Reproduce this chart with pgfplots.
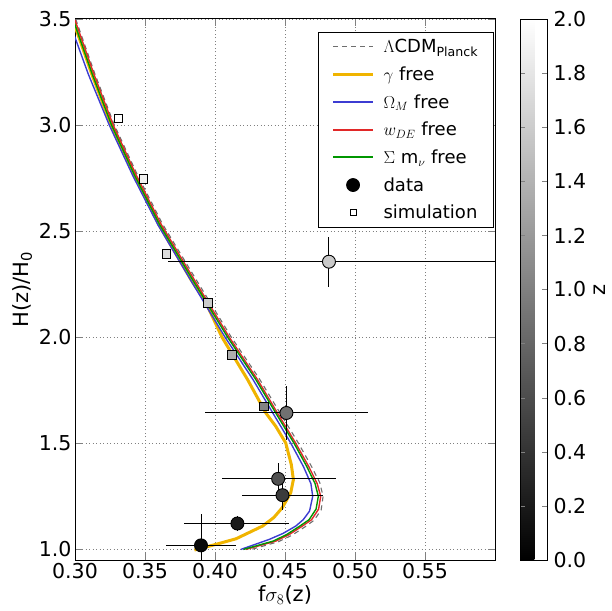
\documentclass[border=0pt]{standalone}
\usepackage{fontspec}
\setmainfont{DejaVu Sans}
\usepackage{pgfplots}
\pgfplotsset{compat=1.18}
\usepackage{pgfplotstable}

\definecolor{gyellow}{RGB}{240,180,0}
\definecolor{oblue}{RGB}{60,60,210}
\definecolor{wred}{RGB}{225,40,40}
\definecolor{mgreen}{RGB}{0,150,0}
\definecolor{lcdm}{RGB}{110,110,110}

% observed growth data: x, y, x error minus/plus, y error, redshift
\pgfplotstableread{
x      y      exm    exp    ey     z
0.390  1.019  0.025  0.025  0.150  0.07
0.416  1.122  0.038  0.037  0.035  0.20
0.4482 1.2555 0.029  0.029  0.070  0.46
0.4451 1.3325 0.040  0.041  0.075  0.63
0.451  1.643  0.058  0.058  0.127  0.88
0.4814 2.356  0.115  0.200  0.117  1.57
}\obsdata

% simulation points
\pgfplotstableread{
x      y      ey    z
0.331  3.032  0.02  2.00
0.349  2.745  0.02  1.88
0.3654 2.392  0.02  1.72
0.395  2.162  0.02  1.58
0.412  1.917  0.02  1.35
0.435  1.673  0.02  1.02
}\simdata

\begin{document}
\begin{tikzpicture}
\begin{axis}[
    name=main,
    width=420pt, height=541pt, scale only axis,
    xmin=0.3, xmax=0.6,
    ymin=0.95, ymax=3.5,
    xtick={0.30,0.35,0.40,0.45,0.50,0.55},
    ytick={1.0,1.5,2.0,2.5,3.0,3.5},
    xticklabel style={/pgf/number format/.cd, fixed, fixed zerofill, precision=2},
    yticklabel style={/pgf/number format/.cd, fixed, fixed zerofill, precision=1},
    /pgf/number format/assume math mode=true,
    tick label style={font=\fontsize{20.5}{24}\selectfont},
    label style={font=\fontsize{21}{25}\selectfont},
    xlabel={f$\sigma_8$(z)},
    ylabel={H(z)/H\textsubscript{0}},
    tick align=inside,
    major tick length=7pt,
    axis line style={line width=1pt},
    grid=major,
    grid style={gray, line width=0.8pt, dash pattern=on 1pt off 2.5pt},
    colormap/blackwhite,
    point meta min=0, point meta max=2,
    colorbar,
    colorbar style={
        width=27pt,
        at={(parent axis.north east)}, anchor=north west, xshift=16.5pt,
        ytick={0,0.2,0.4,0.6,0.8,1.0,1.2,1.4,1.6,1.8,2.0},
        yticklabel style={font=\fontsize{20.5}{24}\selectfont, xshift=3pt,
            /pgf/number format/.cd, fixed, fixed zerofill, precision=1,
            assume math mode=true},
        ylabel={z},
        ylabel style={font=\fontsize{21}{25}\selectfont},
        ylabel shift=1pt,
        major tick length=5pt,
        axis line style={line width=0.8pt},
    },
    legend style={at={(0.9965,0.976)}, anchor=north east,
        font=\fontsize{18}{21}\selectfont, draw=black, line width=0.8pt,
        cells={anchor=west}, row sep=8.5pt, inner xsep=13pt, inner ysep=5pt},
    legend image code/.code={\draw[mark repeat=2, mark phase=2, #1]
        plot coordinates {(0pt,0pt) (20pt,0pt) (40pt,0pt)};
        \path (47pt,0pt);},
]

\addplot[lcdm, line width=1.1pt, dash pattern=on 5pt off 4pt] coordinates {
(0.3005,3.50) (0.3140,3.245) (0.3278,3.005) (0.3446,2.765) (0.3624,2.535)
(0.3862,2.275) (0.4112,2.005) (0.4316,1.805) (0.4460,1.648) (0.4592,1.505)
(0.4686,1.395) (0.4748,1.315) (0.4772,1.25) (0.4758,1.185) (0.4707,1.137)
(0.4640,1.105) (0.4548,1.066) (0.4452,1.036) (0.4245,0.997)
};
\addlegendentry{$\Lambda$CDM$_{\mathrm{Planck}}$}

\addplot[gyellow, line width=3pt] coordinates {
(0.2985,3.495) (0.3120,3.24) (0.3258,3.00) (0.3425,2.76) (0.3600,2.53)
(0.3830,2.27) (0.3930,2.17) (0.4050,2.00) (0.4233,1.80) (0.4363,1.643)
(0.4434,1.58) (0.4505,1.502) (0.4545,1.40) (0.4560,1.329) (0.4541,1.267)
(0.4480,1.196) (0.4420,1.150) (0.4340,1.11) (0.4150,1.05) (0.4008,1.024)
(0.3853,0.997)
};
\addlegendentry{$\gamma$ free}

\addplot[oblue, line width=1.4pt, legend image post style={line width=2pt}] coordinates {
(0.2955,3.495) (0.3095,3.24) (0.3245,3.00) (0.3414,2.76) (0.3592,2.53)
(0.3825,2.27) (0.4072,2.00) (0.4272,1.80) (0.4413,1.643) (0.4542,1.50)
(0.4632,1.39) (0.4685,1.31) (0.4698,1.25) (0.4675,1.18) (0.4630,1.14)
(0.4577,1.11) (0.4485,1.075) (0.4387,1.047) (0.4185,1.00)
};
\addlegendentry{$\Omega_M$ free}

\addplot[wred, line width=1.4pt, legend image post style={line width=2pt}] coordinates {
(0.3000,3.495) (0.3135,3.24) (0.3273,3.00) (0.3440,2.76) (0.3617,2.53)
(0.3853,2.27) (0.4102,2.00) (0.4304,1.80) (0.4446,1.643) (0.4577,1.50)
(0.4670,1.39) (0.4730,1.31) (0.4755,1.25) (0.4740,1.19) (0.4690,1.14)
(0.4624,1.11) (0.4530,1.07) (0.4434,1.039) (0.4221,1.00)
};
\addlegendentry{$w_{DE}$ free}

\addplot[mgreen, line width=1.4pt, legend image post style={line width=2pt}] coordinates {
(0.2988,3.495) (0.3123,3.24) (0.3261,3.00) (0.3428,2.76) (0.3605,2.53)
(0.3841,2.27) (0.4090,2.00) (0.4292,1.80) (0.4434,1.643) (0.4565,1.50)
(0.4656,1.39) (0.4715,1.31) (0.4738,1.25) (0.4722,1.19) (0.4672,1.14)
(0.4606,1.11) (0.4512,1.07) (0.4415,1.039) (0.4204,1.00)
};
\addlegendentry{$\Sigma$ m$_\nu$ free}

\addplot[forget plot, scatter, only marks, mark=square*, mark size=4.3pt,
    scatter src=explicit,
    scatter/use mapped color={draw=black, fill=mapped color},
    mark options={line width=0.9pt},
    error bars/.cd, y dir=both, y explicit, error mark=none,
    error bar style={black, line width=0.8pt}]
    table[x=x, y=y, y error=ey, meta=z] {\simdata};

\addplot[forget plot, scatter, only marks, mark=*, mark size=6.5pt,
    scatter src=explicit,
    scatter/use mapped color={draw=black, fill=mapped color},
    mark options={line width=0.9pt},
    error bars/.cd, x dir=both, x explicit, y dir=both, y explicit,
    error mark=none, error bar style={black, line width=1pt}]
    table[x=x, y=y, x error plus=exp, x error minus=exm, y error=ey, meta=z] {\obsdata};

\addlegendimage{only marks, mark=*, mark size=6.5pt, black}
\addlegendentry{data}
\addlegendimage{only marks, mark=square, mark size=3pt, black, fill=white, line width=0.9pt}
\addlegendentry{simulation}

\end{axis}
% page frame as in the reference: axis box at 75..495 px across, 19..560 px down
\pgfresetboundingbox
\path ([shift={(-75pt,-50pt)}]main.south west) rectangle ([shift={(117pt,19pt)}]main.north east);
\end{tikzpicture}
\end{document}
